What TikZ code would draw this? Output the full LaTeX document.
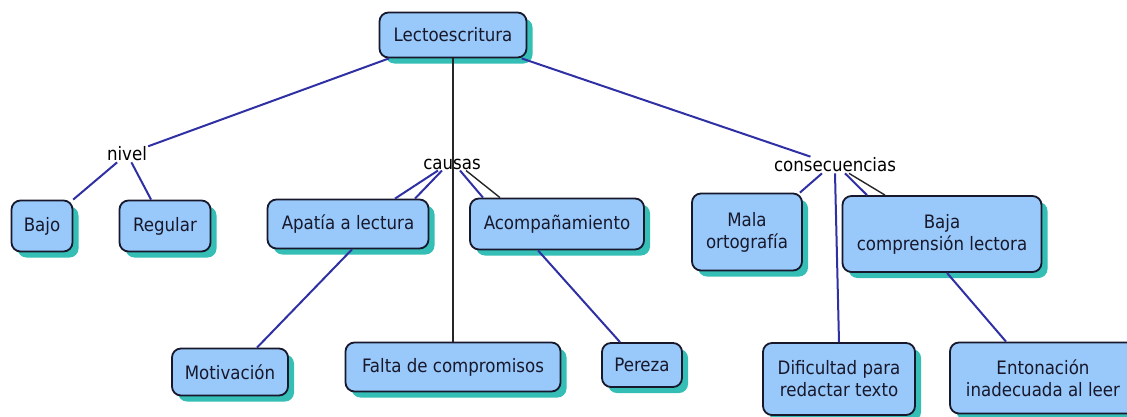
\documentclass[tikz,border=0pt]{standalone}
\usepackage{fontspec}
\setmainfont{DejaVu Sans Condensed}
\usetikzlibrary{shadows}
\definecolor{boxblue}{RGB}{153,201,250}
\definecolor{shadowteal}{RGB}{52,190,182}
\definecolor{linkblue}{RGB}{48,48,165}
\definecolor{inkdark}{RGB}{24,24,44}

\begin{document}
\begin{tikzpicture}[x=1pt,y=-1pt,
 font=\fontsize{18.5}{22}\selectfont,
 concept node/.style={draw=inkdark,line width=1.8pt,fill=boxblue,
   rounded corners=9pt,align=center,text=inkdark,inner sep=2pt,
   drop shadow={shadow xshift=6pt,shadow yshift=-6pt,fill=shadowteal,opacity=1}},
 link node/.style={inner sep=1pt,text=black},
 blue link/.style={draw=linkblue,line width=2pt},
 black link/.style={draw=black!85,line width=1.4pt}]
\useasboundingbox (0,0) rectangle (1127,416);
 \foreach \n/\x/\y/\w/\h/\t in {
     lecto/453/35/147/45/Lectoescritura,
     bajo/42/226/61/51/Bajo,
     regular/165/226/91/51/Regular,
     apatia/348/224/161/49/Apatía a lectura,
     acomp/557/224/174/51/Acompañamiento,
     mala/747/232/110/77/Mala\\ortografía,
     baja/942/234/199/76/Baja\\comprensión lectora,
     motiv/230/372/116/47/Motivación,
     falta/453/367/215/49/Falta de compromisos,
     pereza/642/365/80/44/Pereza,
     dificultad/839/379/152/72/Dificultad para\\redactar texto,
     entonacion/1043/378/186/71/Entonación\\inadecuada al leer}{
   \node[concept node,minimum width=\w pt,minimum height=\h pt](\n) at (\x,\y){\t};}

 \node[link node](nivel) at (127,154){nivel};
 \node[link node](causas) at (452,164){causas};
 \node[link node](consec) at (835,165){consecuencias};

 \path[blue link]
   (lecto) edge (nivel)
   (lecto) edge (consec)
   (nivel) edge (bajo)
   (nivel) edge (regular)
   ([xshift=-14pt]causas.south) edge ([xshift=47pt]apatia.north)
   ([xshift=-10pt]causas.south) edge ([xshift=67pt]apatia.north)
   ([xshift=8pt]causas.south) edge ([xshift=-74pt]acomp.north)
   ([xshift=-13pt]consec.south) edge ([xshift=-3pt]mala.north east)
   (consec.south) edge (dificultad.north)
   ([xshift=10pt]consec.south) edge ([xshift=-75pt]baja.north)
   ([xshift=4pt]apatia.south) edge ([xshift=27pt]motiv.north)
   ([xshift=-19pt]acomp.south) edge ([xshift=-22pt]pereza.north)
   ([xshift=5pt]baja.south) edge ([xshift=-37pt]entonacion.north);
 \path[black link]
   (lecto) edge (falta)
   ([xshift=14pt]causas.south) edge ([xshift=-57pt]acomp.north)
   ([xshift=14pt]consec.south) edge ([xshift=-57pt]baja.north);

\end{tikzpicture}
\end{document}
